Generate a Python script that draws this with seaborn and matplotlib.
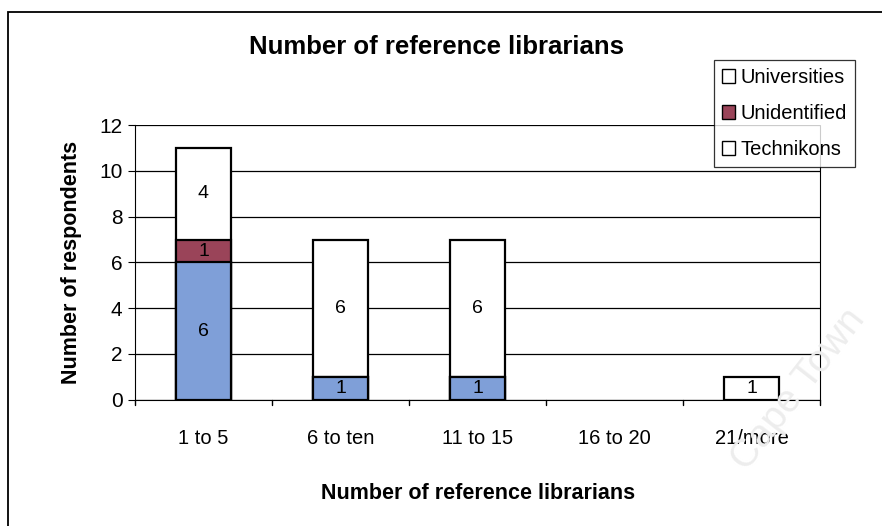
import numpy as np
import pandas as pd
import matplotlib
matplotlib.use("Agg")
import matplotlib.pyplot as plt
import seaborn as sns
from matplotlib.patches import Patch, Rectangle

# data
categories = ["1 to 5", "6 to ten", "11 to 15", "16 to 20", "21/more"]
technikons = [6, 1, 1, 0, 0]
unidentified = [1, 0, 0, 0, 0]
universities = [4, 6, 6, 0, 1]

sns.set_style("white")
plt.rcParams["font.family"] = ["Liberation Sans", "DejaVu Sans"]
plt.rcParams["text.color"] = "black"
plt.rcParams["axes.labelcolor"] = "black"
plt.rcParams["xtick.color"] = "black"
plt.rcParams["ytick.color"] = "black"

df = pd.DataFrame({"cat": categories, "tech": technikons,
                   "unid": unidentified, "univ": universities})
df["lvl2"] = df["tech"] + df["unid"]
df["lvl3"] = df["lvl2"] + df["univ"]

fig = plt.figure(figsize=(8.82, 5.26), dpi=100)

# faint scan watermark (behind everything)
fig.text(0.905, 0.26, "Cape Town", rotation=52, ha="center", va="center",
         fontsize=28, color="#ededed", zorder=0)

ax = fig.add_axes([0.153, 0.240, 0.777, 0.522])
ax.patch.set_alpha(0)

blue = "#7f9fd8"
maroon = "#9a4459"

# stacked bars: draw tallest first, then overlay lower segments
sns.barplot(data=df, x="cat", y="lvl3", color="white", edgecolor="black",
            linewidth=1.6, width=0.4, saturation=1, ax=ax, zorder=3)
sns.barplot(data=df, x="cat", y="lvl2", color=maroon, edgecolor="black",
            linewidth=1.6, width=0.4, saturation=1, ax=ax, zorder=4)
sns.barplot(data=df, x="cat", y="tech", color=blue, edgecolor="black",
            linewidth=1.6, width=0.4, saturation=1, ax=ax, zorder=5)
for p in ax.patches:
    if p.get_height() == 0:
        p.set_visible(False)

# segment labels
for i, row in df.iterrows():
    for lo, val in [(0, row["tech"]), (row["tech"], row["unid"]), (row["lvl2"], row["univ"])]:
        if val > 0:
            ax.text(i, lo + val / 2, str(val), ha="center", va="center",
                    fontsize=14, zorder=6)

ax.set_ylim(0, 12)
ax.set_xlim(-0.5, len(categories) - 0.5)
ax.set_yticks(range(0, 13, 2))
ax.tick_params(axis="y", labelsize=15, length=5, direction="out", left=True, pad=4)
ax.tick_params(axis="x", labelsize=14.5, length=0, pad=21)
ax.set_xticks(range(len(categories)))
ax.set_xticklabels(categories)
# tick marks between categories
for b in np.arange(-0.5, len(categories), 1):
    ax.plot([b, b], [0, -0.25], color="black", lw=1, clip_on=False)
ax.yaxis.grid(True, color="black", linewidth=0.9)
ax.set_axisbelow(True)
for side in ["top", "right"]:
    ax.spines[side].set_visible(False)
ax.spines["left"].set_color("black")
ax.spines["bottom"].set_color("black")
ax.plot([1, 1], [0, 1], transform=ax.transAxes, color="black", lw=0.8, clip_on=False)

ax.set_xlabel("Number of reference librarians", fontsize=15.5, fontweight="bold", labelpad=25)
ax.set_ylabel("Number of respondents", fontsize=15.5, fontweight="bold", labelpad=12)
fig.text(0.495, 0.91, "Number of reference librarians", ha="center", va="center",
         fontsize=18.5, fontweight="bold")

handles = [Patch(facecolor="white", edgecolor="black", label="Universities"),
           Patch(facecolor=maroon, edgecolor="black", label="Unidentified"),
           Patch(facecolor="white", edgecolor="black", label="Technikons")]
leg = fig.legend(handles=handles, loc="upper left", bbox_to_anchor=(0.809, 0.886),
                 frameon=True, fancybox=False, edgecolor="black", fontsize=14.5,
                 handlelength=0.65, handleheight=0.65, handletextpad=0.3,
                 labelspacing=0.85, borderpad=0.4, borderaxespad=0)
leg.get_frame().set_linewidth(0.9)

# outer chart border
fig.patches.append(Rectangle((0.009, -0.01), 1.0, 0.987, transform=fig.transFigure,
                             fill=False, edgecolor="black", linewidth=1.3))

fig.savefig("out.png", dpi=100)
